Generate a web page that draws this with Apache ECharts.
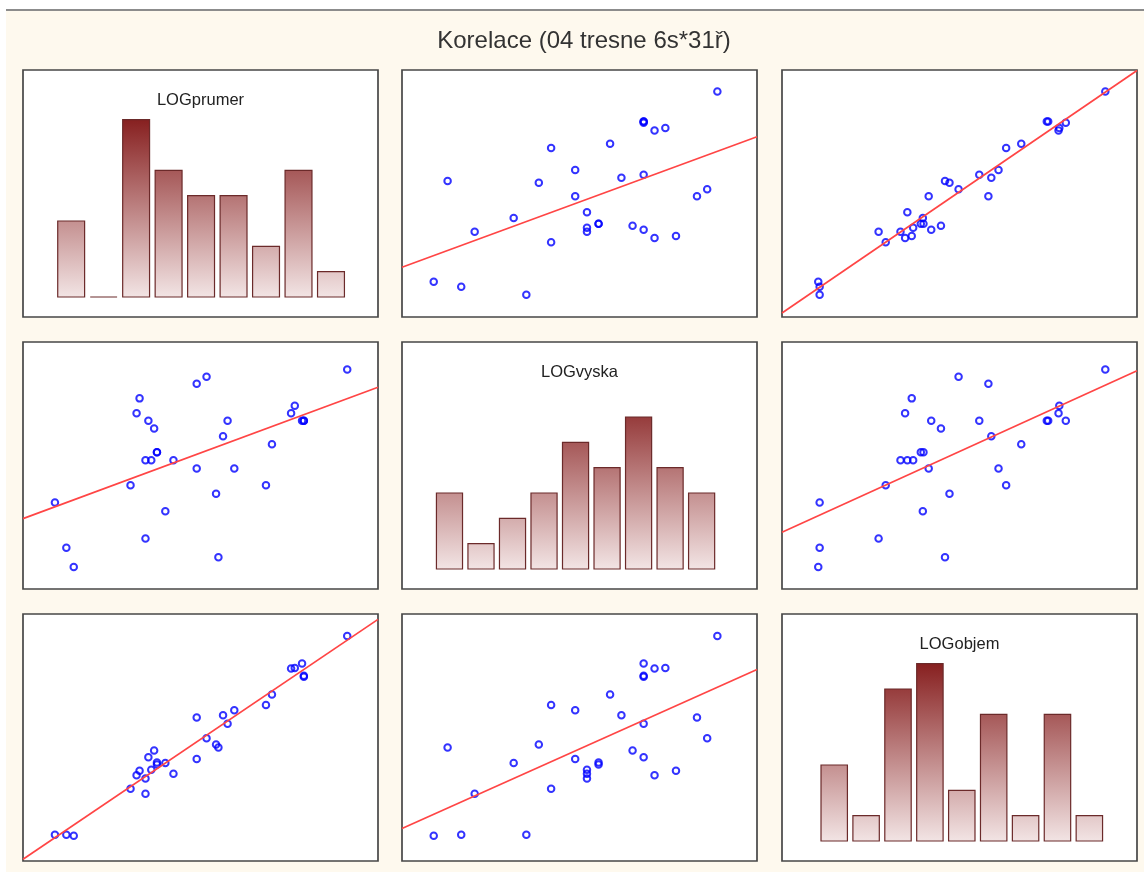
<!DOCTYPE html>
<html>
<head>
<meta charset="utf-8">
<script src="https://cdn.jsdelivr.net/npm/echarts@6/dist/echarts.min.js"></script>
<style>
  html, body { margin: 0; padding: 0; background: #ffffff; }
  #paper { position: absolute; left: 6px; top: 11px; width: 1138px; height: 861px; background: #fef9ee; }
  #rule  { position: absolute; left: 6px; top: 9px; width: 1138px; height: 2px; background: #8c8c8c; }
  #chart { position: absolute; left: 0; top: 0; width: 1144px; height: 872px; }
</style>
</head>
<body>
<div id="paper"></div>
<div id="rule"></div>
<div id="chart"></div>
<script>
// Log-transformed measurements of 31 cherry trees
const chartTitle = 'Korelace (04 tresne 6s*31ř)';
const varNames = ['LOGprumer', 'LOGvyska', 'LOGobjem'];

const logPrumer = [2.1163, 2.1518, 2.1748, 2.3514, 2.3702, 2.3795, 2.3979, 2.3979, 2.4069, 2.4159,
                   2.4248, 2.4336, 2.4336, 2.4596, 2.4849, 2.5572, 2.5572, 2.5878, 2.6174, 2.6247,
                   2.6391, 2.6532, 2.6741, 2.7726, 2.7912, 2.8507, 2.8622, 2.8848, 2.8904, 2.8904,
                   3.0253];
const logVyska  = [4.2485, 4.1744, 4.1431, 4.2767, 4.3944, 4.4188, 4.1897, 4.3175, 4.3820, 4.3175,
                   4.3694, 4.3307, 4.3307, 4.2341, 4.3175, 4.3041, 4.4427, 4.4543, 4.2627, 4.1589,
                   4.3567, 4.3820, 4.3041, 4.2767, 4.3438, 4.3944, 4.4067, 4.3820, 4.3820, 4.3820,
                   4.4659];
const logObjem  = [2.3321, 2.3321, 2.3224, 2.7973, 2.9339, 2.9806, 2.7473, 2.9014, 3.1179, 2.9907,
                   3.1864, 3.0445, 3.0633, 3.0587, 2.9497, 3.1000, 3.5205, 3.3105, 3.2465, 3.2149,
                   3.5410, 3.4563, 3.5918, 3.6455, 3.7519, 4.0145, 4.0199, 4.0656, 3.9416, 3.9318,
                   4.3438];

// Histogram counts (9 equal-width bins between each variable's min and max)
const prumerCounts = [3, 0, 7, 5, 4, 4, 2, 5, 1];
const vyskaCounts  = [3, 1, 2, 3, 5, 4, 6, 4, 3];
const objemCounts  = [3, 1, 6, 7, 2, 5, 1, 5, 1];

const values = [logPrumer, logVyska, logObjem];
const counts = [prumerCounts, vyskaCounts, objemCounts];

// Layout of the 3x3 matrix
const colLeft = [23, 402, 782];
const rowTop = [70, 342, 614];
const cellW = 355, cellH = 247;
const axisRange = [[2.017, 3.121], [4.107, 4.511], [2.067, 4.567]];
const histRange = [-0.79, 8.96];

const gradTopCount = Math.max(...prumerCounts, ...vyskaCounts, ...objemCounts);

function renderBin(params, api) {
  const base = api.coord([api.value(0), 0]);
  const tip = api.coord([api.value(1), api.value(2)]);
  const w = tip[0] - base[0];
  const inset = w * 0.086;
  const gTop = api.coord([api.value(0), gradTopCount])[1];
  return {
    type: 'rect',
    shape: { x: base[0] + inset, y: tip[1], width: w - 2 * inset, height: base[1] - tip[1] },
    style: {
      fill: new echarts.graphic.LinearGradient(0, gTop, 0, base[1], [
        { offset: 0, color: '#872020' },
        { offset: 1, color: '#f2e4e4' }
      ], true),
      stroke: '#6b2a2a',
      lineWidth: 1.2
    }
  };
}

function fitLine(xs, ys) {
  const n = xs.length;
  const mx = xs.reduce((s, v) => s + v, 0) / n;
  const my = ys.reduce((s, v) => s + v, 0) / n;
  let sxy = 0, sxx = 0;
  for (let k = 0; k < n; k++) {
    sxy += (xs[k] - mx) * (ys[k] - my);
    sxx += (xs[k] - mx) * (xs[k] - mx);
  }
  const b = sxy / sxx;
  return [b, my - b * mx];
}

const grids = [], xAxes = [], yAxes = [], series = [], graphics = [];

graphics.push({
  type: 'text', x: 584, y: 41, silent: true,
  style: { text: chartTitle, fontSize: 24, fontFamily: '"Liberation Sans", Arial, sans-serif',
           fill: '#333333', align: 'center', verticalAlign: 'middle' }
});

for (let i = 0; i < 3; i++) {
  for (let j = 0; j < 3; j++) {
    const g = grids.length;
    grids.push({
      left: colLeft[j], top: rowTop[i], width: cellW, height: cellH,
      show: true, backgroundColor: '#ffffff', borderColor: '#474747', borderWidth: 1.7
    });
    xAxes.push({ gridIndex: g, type: 'value', min: axisRange[j][0], max: axisRange[j][1], show: false, splitLine: { show: false } });
    if (i === j) {
      yAxes.push({ gridIndex: g, type: 'value', min: histRange[0], max: histRange[1], show: false, splitLine: { show: false } });
      const vals = values[i];
      const lo = Math.min(...vals), hi = Math.max(...vals);
      const bw = (hi - lo) / counts[i].length;
      series.push({
        type: 'custom', xAxisIndex: g, yAxisIndex: g, silent: true,
        renderItem: renderBin,
        encode: { x: [0, 1], y: 2 },
        data: counts[i].map((c, b) => [lo + b * bw, lo + (b + 1) * bw, c])
      });
      graphics.push({
        type: 'text', x: colLeft[j] + cellW / 2, y: rowTop[i] + 30, silent: true,
        style: { text: varNames[i], fontSize: 16.5, fontFamily: '"Liberation Sans", Arial, sans-serif',
                 fill: '#222222', align: 'center', verticalAlign: 'middle' }
      });
    } else {
      yAxes.push({ gridIndex: g, type: 'value', min: axisRange[i][0], max: axisRange[i][1], show: false, splitLine: { show: false } });
      const xs = values[j], ys = values[i];
      const [b, a] = fitLine(xs, ys);
      const x0 = axisRange[j][0], x1 = axisRange[j][1];
      series.push({
        type: 'line', xAxisIndex: g, yAxisIndex: g, silent: true, showSymbol: false, clip: true,
        lineStyle: { color: '#ff4545', width: 1.7 },
        data: [[x0, a + b * x0], [x1, a + b * x1]]
      });
      series.push({
        type: 'scatter', xAxisIndex: g, yAxisIndex: g, silent: true,
        symbol: 'circle', symbolSize: 6.5,
        itemStyle: { color: 'rgba(0,0,0,0)', borderColor: '#0000ff', borderWidth: 2 },
        data: xs.map((x, k) => [x, ys[k]])
      });
    }
  }
}

const chart = echarts.init(document.getElementById('chart'), null, { renderer: 'canvas' });
chart.setOption({
  animation: false,
  backgroundColor: 'transparent',
  grid: grids,
  xAxis: xAxes,
  yAxis: yAxes,
  series: series,
  graphic: graphics
});
</script>
</body>
</html>
